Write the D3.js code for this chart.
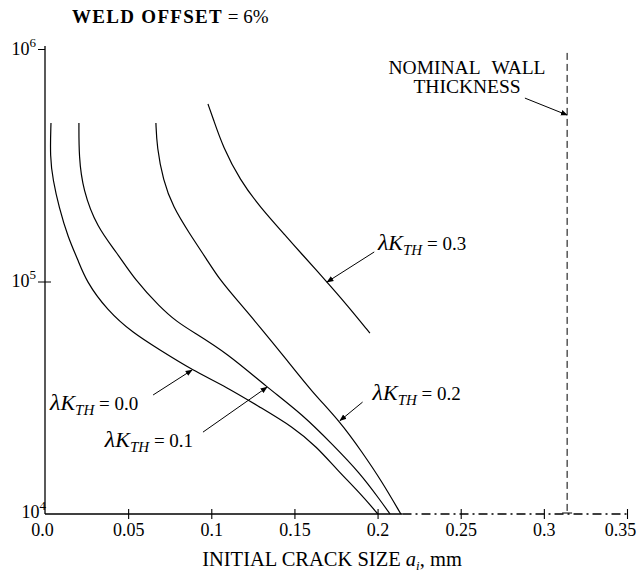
<!DOCTYPE html>
<html lang="en">
<head>
<meta charset="utf-8">
<style>
  body { margin: 0; background: white; }
  svg { background: white; font-family: "Liberation Serif", "Times New Roman", serif; }
  .curve { fill: none; stroke: black; stroke-width: 1.2px; }
  .ann { fill: none; stroke: black; stroke-width: 1px; }
  .axisline { stroke: black; stroke-width: 1.3px; fill: none; }
</style>
<script src="https://d3js.org/d3.v7.min.js"></script>
</head>
<body>
<script>
var width = 639, height = 572;

// axis ticks
var xTicks = [0, 0.05, 0.1, 0.15, 0.2, 0.25, 0.3, 0.35];
var xTickLabels = ["0.0", "0.05", "0.1", "0.15", "0.2", "0.25", "0.3", "0.35"];
var yTicks = [1e4, 1e5, 1e6];
var yTickExps = ["4", "5", "6"];

// curves: initial crack size (mm) vs. cycles, one pair per lambda
var lambdas = ["0.0", "0.1", "0.2", "0.3"];
var crack0 = [0.0036, 0.0036, 0.003, 0.0048, 0.0084, 0.0138, 0.0198, 0.0247, 0.0373, 0.0529, 0.0692, 0.0884, 0.1094, 0.1293, 0.1491, 0.1636, 0.1756, 0.1894, 0.2002, 0.2002];
var life0  = [481000, 481000, 343000, 273000, 209000, 155000, 124000, 100400, 75300, 60000, 50700, 41600, 35100, 28800, 23700, 19400, 15500, 12300, 10000, 10000];
var crack1 = [0.0204, 0.0204, 0.0204, 0.0228, 0.0313, 0.0433, 0.0541, 0.0692, 0.0794, 0.089, 0.1094, 0.1335, 0.1551, 0.1732, 0.1894, 0.2014, 0.2075, 0.2075];
var life1  = [481000, 481000, 343000, 248000, 171000, 133000, 101500, 77600, 67000, 60700, 49200, 35100, 26700, 19800, 15000, 11500, 10000, 10000];
var crack2 = [0.0667, 0.0667, 0.0673, 0.0710, 0.0770, 0.0866, 0.0974, 0.1052, 0.1155, 0.1293, 0.1455, 0.1606, 0.1774, 0.1906, 0.2026, 0.214, 0.214];
var life2  = [481000, 481000, 379000, 273000, 209000, 162000, 124000, 101500, 83200, 63700, 45900, 33500, 25000, 18500, 13800, 10000, 10000];
var crack3 = [0.098, 0.098, 0.101, 0.107, 0.1173, 0.1293, 0.1455, 0.1533, 0.1696, 0.1816, 0.1954, 0.1954];
var life3  = [580000, 580000, 505000, 379000, 273000, 209000, 155000, 134000, 99500, 79300, 60000, 60000];

// label anchors and arrows (data units), same order as lambdas
var labelX = [0.003, 0.036, 0.197, 0.2002];
var labelY = [28000, 19400, 30900, 136000];
var arrowFromX = [0.065, 0.095, 0.191, 0.198];
var arrowFromY = [32500, 22500, 30300, 134000];
var arrowToX = [0.0884, 0.1335, 0.1774, 0.1696];
var arrowToY = [41600, 35100, 25200, 99500];

// nominal wall thickness
var wallThickness = 0.314;
var wallTop = 962000;
var wallLabelX = 0.2538;
var wallLabelY = [780000, 647000];
var wallArrowFrom = [0.2886, 615000];
var wallArrowTo = [0.314, 520000];

var x = d3.scaleLinear().domain([0, 0.35]).range([45, 627]);
var y = d3.scaleLog().domain([1e4, 1e6]).range([514, 49]);

var svg = d3.select("body").append("svg")
  .attr("width", width)
  .attr("height", height);

var defs = svg.append("defs");
defs.append("marker")
  .attr("id", "head")
  .attr("viewBox", "0 0 10 10")
  .attr("refX", 9).attr("refY", 5)
  .attr("markerWidth", 7).attr("markerHeight", 7)
  .attr("markerUnits", "userSpaceOnUse")
  .attr("orient", "auto")
  .append("path").attr("d", "M0,1 L10,5 L0,9 Z").attr("fill", "black");

// title
var title = svg.append("text").attr("x", 72).attr("y", 23).style("font-size", "19px");
title.append("tspan").text("WELD OFFSET").style("font-weight", "bold").style("letter-spacing", "1.3px");
title.append("tspan").text(" = 6%");

// x axis
var xAxis = d3.axisBottom(x)
  .tickValues(xTicks)
  .tickFormat(function(d, i) { return xTickLabels[i]; })
  .tickSize(5);
var gx = svg.append("g").attr("transform", "translate(0," + y(1e4) + ")").call(xAxis);
gx.select(".domain").remove();
gx.selectAll(".tick line").attr("y1", -5).attr("y2", 5).attr("stroke-width", 1.1)
  .filter(function(d) { return d === 0; }).remove();
gx.selectAll(".tick text")
  .attr("y", 9)
  .style("font-size", "18px")
  .style("font-family", "Liberation Serif, serif")
  .attr("dx", function(d) { return d === 0 ? "-3" : (d === 0.35 ? "-7" : "0"); });

svg.append("line").attr("class", "axisline")
  .attr("x1", x(0)).attr("x2", x(0.215))
  .attr("y1", y(1e4)).attr("y2", y(1e4));
svg.append("line").attr("class", "axisline")
  .attr("x1", x(0.215)).attr("x2", x(0.35))
  .attr("y1", y(1e4)).attr("y2", y(1e4))
  .attr("stroke-dasharray", "9,4,2,4");

// y axis
var yAxis = d3.axisLeft(y)
  .tickValues(yTicks)
  .tickFormat("")
  .tickSize(7);
var gy = svg.append("g").attr("transform", "translate(" + x(0) + ",0)").call(yAxis);
gy.select(".domain").remove();
gy.selectAll(".tick line").attr("x2", function(d) { return d === 1e5 ? 6 : 0; }).attr("x1", -7)
  .filter(function(d) { return d === 1e4; }).remove();
svg.append("line").attr("class", "axisline")
  .attr("x1", x(0)).attr("x2", x(0))
  .attr("y1", y(1e4)).attr("y2", y(1e6) - 3);

gy.selectAll(".tick").each(function(d, i) {
  var t = d3.select(this).append("text")
    .attr("fill", "black")
    .attr("text-anchor", "end")
    .attr("x", d === 1e4 ? 1 : -9)
    .attr("y", d === 1e4 ? 3 : 5)
    .style("font-size", "18px")
    .style("font-family", "Liberation Serif, serif");
  t.append("tspan").text("10");
  t.append("tspan").text(yTickExps[i]).attr("dy", -8).style("font-size", "13px");
});

// x label
var xl = svg.append("text").attr("x", 332).attr("y", 566)
  .attr("text-anchor", "middle").style("font-size", "20.5px");
xl.append("tspan").text("INITIAL CRACK SIZE ");
xl.append("tspan").text("a").style("font-style", "italic");
xl.append("tspan").text("i").style("font-style", "italic").style("font-size", "13px").attr("dy", 4);
xl.append("tspan").text(",  mm").attr("dy", -4);

// curves
var series = [
  d3.zip(crack0, life0),
  d3.zip(crack1, life1),
  d3.zip(crack2, life2),
  d3.zip(crack3, life3)
];
var line = d3.line()
  .x(function(d) { return x(d[0]); })
  .y(function(d) { return y(d[1]); })
  .curve(d3.curveBasis);

svg.selectAll(".curve").data(series).enter()
  .append("path").attr("class", "curve").attr("d", line);

// lambda labels
lambdas.forEach(function(l, i) {
  svg.append("line").attr("class", "ann")
    .attr("x1", x(arrowFromX[i])).attr("y1", y(arrowFromY[i]))
    .attr("x2", x(arrowToX[i])).attr("y2", y(arrowToY[i]))
    .attr("marker-end", "url(#head)");
  var t = svg.append("text").attr("x", x(labelX[i])).attr("y", y(labelY[i]));
  t.append("tspan").text("λ").style("font-style", "italic").style("font-size", "24px");
  t.append("tspan").text("K").style("font-style", "italic").style("font-size", "22px");
  t.append("tspan").text("TH").style("font-style", "italic").style("font-size", "15px").attr("dy", 5);
  t.append("tspan").text(" = " + l).style("font-size", "19px").attr("dy", -5);
});

// nominal wall thickness
svg.append("line").attr("class", "ann")
  .attr("x1", x(wallThickness)).attr("x2", x(wallThickness))
  .attr("y1", y(wallTop)).attr("y2", y(1e4))
  .attr("stroke-dasharray", "7,4")
  .attr("stroke-width", 1.3);
svg.append("line").attr("class", "ann")
  .attr("x1", x(wallThickness) - 5).attr("x2", x(wallThickness) + 5)
  .attr("y1", y(1e4) - 1).attr("y2", y(1e4) - 1);
svg.append("line").attr("class", "ann")
  .attr("x1", x(wallArrowFrom[0])).attr("y1", y(wallArrowFrom[1]))
  .attr("x2", x(wallArrowTo[0])).attr("y2", y(wallArrowTo[1]))
  .attr("marker-end", "url(#head)");
svg.append("text").attr("x", x(wallLabelX)).attr("y", y(wallLabelY[0]))
  .attr("text-anchor", "middle").style("font-size", "19.5px").style("word-spacing", "7px")
  .text("NOMINAL WALL");
svg.append("text").attr("x", x(wallLabelX)).attr("y", y(wallLabelY[1]))
  .attr("text-anchor", "middle").style("font-size", "19.5px")
  .text("THICKNESS");
</script>
</body>
</html>
